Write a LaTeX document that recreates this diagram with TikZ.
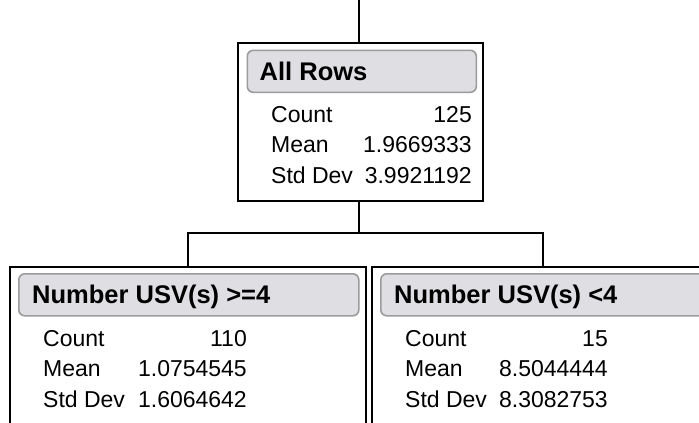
\documentclass[tikz,border=0pt]{standalone}
\usepackage{fontspec}
\setmainfont{Liberation Sans}
\definecolor{hdrfill}{RGB}{222,222,227}
\definecolor{hdrline}{RGB}{155,155,155}
\tikzset{
 box/.style={draw=black, line width=2bp, fill=white, anchor=north west, inner sep=0pt, minimum height=158bp},
 hdr/.style={draw=hdrline, line width=1.6bp, fill=hdrfill, rounded corners=6bp, anchor=north west, inner sep=0pt, minimum height=42bp},
 ttl/.style={anchor=base west, inner sep=0pt, font=\fontsize{25.5bp}{30bp}\selectfont\bfseries},
 lbl/.style={anchor=base west, inner sep=0pt, font=\fontsize{23bp}{27bp}\selectfont},
 val/.style={anchor=base east, inner sep=0pt, font=\fontsize{23bp}{27bp}\selectfont},
 conn/.style={draw=black, line width=2bp},
}
\begin{document}
\begin{tikzpicture}[x=1bp,y=-1bp]
\useasboundingbox (0,0) rectangle (699,422);
\clip (0,0) rectangle (699,422);
% root
\node[box, minimum width=245bp] (root) at (237,42) {};
\node[hdr, minimum width=229bp] (h0) at (246.5,49.5) {};
\node[ttl] (t0) at (259.5,80) {All Rows};
\node[lbl] (r0a) at (271,122) {Count};
\node[lbl] (r0b) at (271,152.5) {Mean};
\node[lbl] (r0c) at (271,183) {Std Dev};
\node[val] (v0a) at (472,122) {125};
\node[val] (v0b) at (472,152.5) {1.9669333};
\node[val] (v0c) at (472,183) {3.9921192};
% left child
\node[box, minimum width=356bp] (left) at (9,266) {};
\node[hdr, minimum width=340bp] (h1) at (18,273) {};
\node[ttl] (t1) at (32,303) {Number USV(s) >=4};
\node[lbl] (r1a) at (43,346) {Count};
\node[lbl] (r1b) at (43,376.5) {Mean};
\node[lbl] (r1c) at (43,407) {Std Dev};
\node[val] (v1a) at (247,346) {110};
\node[val] (v1b) at (247,376.5) {1.0754545};
\node[val] (v1c) at (247,407) {1.6064642};
% right child
\node[box, minimum width=342bp] (right) at (371,266) {};
\node[hdr, minimum width=326bp] (h2) at (380,273) {};
\node[ttl] (t2) at (394,303) {Number USV(s) <4};
\node[lbl] (r2a) at (405,346) {Count};
\node[lbl] (r2b) at (405,376.5) {Mean};
\node[lbl] (r2c) at (405,407) {Std Dev};
\node[val] (v2a) at (608,346) {15};
\node[val] (v2b) at (608,376.5) {8.5044444};
\node[val] (v2c) at (608,407) {8.3082753};
% connectors
\coordinate (in) at (358.5,0);
\coordinate (j) at (358.5,233);
\draw[conn] (in) -- (in |- root.north);
\draw[conn] (in |- root.south) -- (j);
\draw[conn] (left.north) -- (left.north |- j) -- (right.north |- j) -- (right.north);
\end{tikzpicture}
\end{document}
